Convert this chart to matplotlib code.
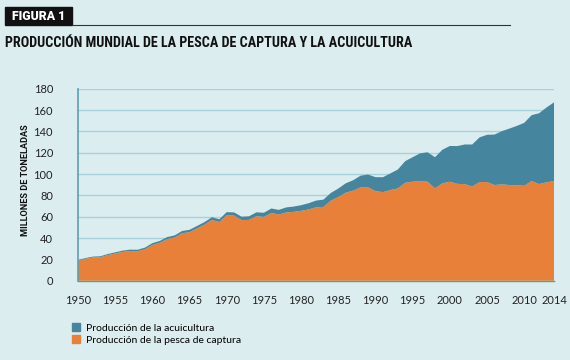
import matplotlib
matplotlib.use('Agg')
import matplotlib.pyplot as plt
from matplotlib.patches import Patch, Rectangle
from matplotlib.lines import Line2D
from matplotlib import font_manager

# Datos (millones de toneladas)
years = list(range(1950, 2015))
captura = [18.7, 20.5, 21.8, 22.0, 24.0, 25.5, 27.0, 27.8, 27.6, 29.5,
           33.5, 35.5, 39.0, 40.5, 44.5, 45.5, 49.0, 52.5, 57.0, 55.0,
           61.5, 61.0, 56.8, 57.0, 60.5, 59.8, 63.5, 62.0, 64.0, 64.5,
           65.5, 66.8, 68.8, 69.2, 75.0, 78.5, 82.5, 84.4, 87.5, 87.5,
           84.0, 83.0, 85.0, 86.5, 91.8, 92.8, 93.4, 92.8, 86.6, 91.3,
           92.8, 90.8, 90.5, 88.3, 92.5, 92.5, 89.7, 90.3, 89.7, 89.4,
           89.0, 93.4, 90.6, 92.2, 93.4]
acuicultura = [0.6, 0.7, 0.8, 0.9, 1.0, 1.1, 1.2, 1.3, 1.4, 1.5,
               1.7, 1.8, 1.9, 2.0, 2.1, 2.2, 2.3, 2.4, 2.5, 2.6,
               2.8, 3.0, 3.2, 3.4, 3.6, 3.9, 4.2, 4.4, 4.7, 5.0,
               5.3, 5.8, 6.3, 6.8, 7.3, 7.9, 8.8, 9.8, 11.0, 12.0,
               13.1, 14.0, 15.6, 17.7, 20.3, 23.0, 26.0, 27.6, 29.2, 31.5,
               33.5, 35.4, 37.2, 39.4, 41.9, 44.3, 47.3, 49.9, 52.9, 55.7,
               59.0, 61.8, 66.4, 70.2, 73.8]
xticks = [1950, 1955, 1960, 1965, 1970, 1975, 1980, 1985, 1990, 1995,
          2000, 2005, 2010, 2014]
yticks = [0, 20, 40, 60, 80, 100, 120, 140, 160, 180]

bg = '#dcedf0'
naranja = '#e8803a'
azul = '#45869e'

# Fuente estrecha si existe
nombres = {f.name for f in font_manager.fontManager.ttflist}
estrecha = 'Roboto Condensed' if 'Roboto Condensed' in nombres else 'Roboto'

fig = plt.figure(figsize=(5.7, 3.6), dpi=100, facecolor=bg)
ax = fig.add_axes([78 / 570, 1 - 280.7 / 360, 476 / 570, 192 / 360])
ax.set_facecolor(bg)

ax.stackplot(years, captura, acuicultura, colors=[naranja, azul], linewidth=0)

ax.set_xlim(1950, 2014)
ax.set_ylim(0, 180)
ax.set_xticks(xticks)
ax.set_yticks(yticks)
ax.grid(axis='y', color='#a6d2dc', linewidth=1.0)
ax.set_axisbelow(True)
ax.tick_params(length=0, labelsize=8, colors='#222222')
ax.tick_params(axis='x', pad=10)
ax.tick_params(axis='y', pad=18)
for lab in ax.get_xticklabels() + ax.get_yticklabels():
    lab.set_family('Lato')

for s in ['top', 'right']:
    ax.spines[s].set_visible(False)
ax.spines['left'].set_color('#5aa0b4')
ax.spines['left'].set_linewidth(1.2)
ax.spines['bottom'].set_color('#6f9a6a')
ax.spines['bottom'].set_linewidth(1.0)

fig.text(26 / 570, 1 - 180 / 360, 'MILLONES DE TONELADAS', rotation=90,
         fontsize=6.6, fontweight='bold', family='Roboto', color='#111111',
         ha='center', va='center')

# Cabecera
fig.patches.append(Rectangle((5 / 570, 1 - 25 / 360), 67 / 570, 18 / 360,
                             transform=fig.transFigure, color='#111111'))
fig.text(12 / 570, 1 - 16.5 / 360, 'FIGURA 1', color='white', fontsize=8.8,
         fontweight='heavy', family='Roboto', va='center')
fig.lines.append(Line2D([72 / 570, 510 / 570], [1 - 25 / 360, 1 - 25 / 360],
                        transform=fig.transFigure, color='#333333', linewidth=0.8))
fig.text(5 / 570, 1 - 43 / 360,
         'PRODUCCIÓN MUNDIAL DE LA PESCA DE CAPTURA Y LA ACUICULTURA',
         fontsize=10.2 if estrecha == 'Roboto Condensed' else 8.6,
         fontweight='heavy', family=estrecha, va='center', color='#111111')

# Leyenda
handles = [Patch(color=azul, label='Producción de la acuicultura'),
           Patch(color=naranja, label='Producción de la pesca de captura')]
leg = fig.legend(handles=handles, loc='upper left',
                 bbox_to_anchor=(68 / 570, 1 - 319 / 360), frameon=False,
                 prop={'family': 'Lato', 'size': 7.5}, handlelength=0.75,
                 handleheight=0.75, handletextpad=0.6, labelspacing=0.25,
                 borderaxespad=0)

fig.savefig('out.png', dpi=100, facecolor=bg)
